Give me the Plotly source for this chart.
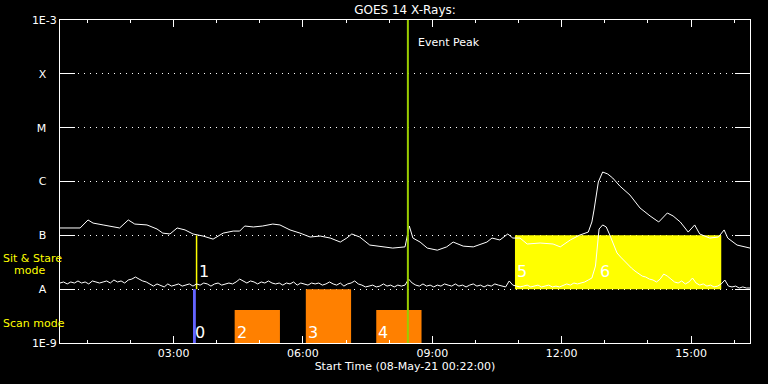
import plotly.graph_objects as go
import pandas as pd

DAY = "2021-05-08 "

# GOES long channel (1-8 A)
long_time = ["00:22", "00:32", "00:50", "01:01", "01:08", "01:22", "01:45", "01:57", "02:06", "02:23",
             "02:37", "02:45", "02:55", "03:05", "03:16", "03:27", "03:41", "03:55", "04:09", "04:23",
             "04:32", "04:39", "04:51", "05:04", "05:18", "05:28", "05:42", "05:56", "06:10", "06:24",
             "06:38", "06:52", "07:01", "07:08", "07:19", "07:33", "07:47", "08:05", "08:22", "08:28",
             "08:33", "08:43", "08:53", "09:07", "09:20", "09:29", "09:43", "09:57", "10:16", "10:23",
             "10:34", "10:45", "10:52", "11:02", "11:12", "11:30", "11:48", "11:58", "12:12", "12:25",
             "12:37", "12:42", "12:45", "12:51", "12:57", "13:04", "13:11", "13:21", "13:35", "13:49",
             "14:03", "14:15", "14:27", "14:35", "14:45", "14:56", "15:05", "15:12", "15:26", "15:38",
             "15:46", "15:51", "16:04", "16:18", "16:22"]
long_flux = [1.37e-7, 1.37e-7, 1.37e-7, 1.93e-7, 1.69e-7, 1.56e-7, 1.37e-7, 1.93e-7, 1.62e-7, 1.56e-7,
             1.31e-7, 1.10e-7, 1.06e-7, 1.37e-7, 1.26e-7, 1.06e-7, 9.7e-8, 8.5e-8, 1.10e-7, 1.20e-7,
             1.20e-7, 1.49e-7, 1.43e-7, 1.49e-7, 1.62e-7, 1.56e-7, 1.26e-7, 1.10e-7, 9.3e-8, 9.7e-8,
             8.9e-8, 7.5e-8, 8.9e-8, 1.06e-7, 9.3e-8, 6.6e-8, 6.3e-8, 5.8e-8, 6.1e-8, 1.49e-7,
             8.9e-8, 7.5e-8, 5.8e-8, 5.3e-8, 6.1e-8, 7.5e-8, 6.3e-8, 6.1e-8, 7.5e-8, 8.9e-8,
             8.2e-8, 1.06e-7, 8.9e-8, 8.9e-8, 6.9e-8, 7.2e-8, 6.9e-8, 6.1e-8, 8.2e-8, 1.01e-7,
             1.15e-7, 1.77e-7, 2.95e-7, 9.8e-7, 1.50e-6, 1.38e-6, 1.16e-6, 8.2e-7, 5.6e-7, 3.22e-7,
             2.29e-7, 1.77e-7, 2.60e-7, 2.29e-7, 1.77e-7, 1.15e-7, 1.56e-7, 1.06e-7, 8.9e-8, 9.3e-8,
             1.26e-7, 8.9e-8, 6.6e-8, 6.1e-8, 5.8e-8]

# GOES short channel (0.5-4 A), 5-minute samples from 00:22, in units of 1e-9 W/m^2
short_start = "2021-05-08 00:22"
short_flux_1e9 = [
    13.0, 13.6, 12.5, 13.6, 13.0, 14.2, 13.0, 13.6, 12.5, 14.2, 13.6, 13.0,
    13.6, 14.2, 13.0, 14.8, 13.6, 14.2, 13.0, 14.8, 15.4, 16.8, 15.4, 14.2,
    13.6, 12.5, 11.4, 12.5, 11.9, 11.0, 12.5, 11.4, 11.9, 12.5, 11.4, 11.9,
    12.5, 11.4, 12.5, 11.9, 13.0, 12.5, 11.4, 12.5, 13.0, 11.9, 12.5, 13.0,
    12.5, 13.6, 15.4, 14.2, 13.0, 14.2, 13.6, 12.5, 13.6, 13.0, 14.2, 13.0,
    12.5, 13.0, 11.9, 13.0, 12.5, 13.6, 11.9, 13.0, 12.5, 11.9, 13.0, 12.5,
    13.0, 11.9, 12.5, 13.6, 12.5, 11.9, 13.0, 11.4, 12.5, 13.0, 14.2, 12.5,
    11.9, 11.0, 11.4, 11.9, 11.0, 11.4, 12.5, 11.4, 11.9, 11.0, 11.9, 11.4,
    11.9, 15.4, 13.0, 11.9, 11.4, 12.5, 11.4, 11.9, 11.0, 11.9, 11.4, 12.5,
    11.9, 11.4, 12.5, 11.4, 11.9, 11.0, 11.9, 12.5, 11.4, 11.9, 11.0, 11.9,
    11.4, 12.5, 11.9, 11.4, 11.0, 14.2, 11.9, 11.4, 11.0, 11.4, 11.9, 11.0,
    11.4, 11.9, 11.0, 11.4, 11.9, 11.0, 11.4, 11.0, 11.9, 12.5, 11.9, 13.0,
    12.5, 13.0, 13.6, 14.8, 16.1, 26.9, 131.0, 156.0, 143.0, 101.0, 69.0, 47.0,
    39.5, 33.3, 28.1, 24.7, 21.7, 19.1, 17.5, 16.8, 15.4, 14.8, 13.6, 15.4,
    19.1, 17.5, 15.4, 13.6, 13.0, 14.2, 12.5, 13.6, 16.1, 13.0, 11.9, 12.5,
    11.4, 11.9, 11.0, 11.4, 12.5, 14.8, 11.4, 11.0, 11.4, 10.5, 11.0, 10.5,
    10.5]

# Scan-mode observations
scan_ids = ["0", "2", "3", "4"]
scan_start = ["03:27", "04:25", "06:04", "07:42"]
scan_end = ["03:31", "05:28", "07:07", "08:45"]
scan_top = [1e-8, 4.1e-9, 1e-8, 4.1e-9]
scan_bottom = 1e-9

# Sit & Stare observations
sit_ids = ["1", "5", "6"]
sit_start = ["03:32", "10:55", "12:51"]
sit_end = ["03:32", "15:42", "12:51"]
sit_low = 1e-8
sit_high = 1e-7

event_peak = "08:26"

class_vals = [1e-9, 1e-8, 1e-7, 1e-6, 1e-5, 1e-4, 1e-3]
class_labels = ["1E-9", "A", "B", "C", "M", "X", "1E-3"]

x_range = ["00:22", "16:22"]

# ---------------------------------------------------------------
WHITE = "#ffffff"
YELLOW = "#ffff00"
ORANGE = "#ff8000"
BLUE = "#6464ff"
GREEN = "#9acd00"
FONT = "DejaVu Sans"

fig = go.Figure()

# Sit & Stare boxes / lines (drawn first so curves sit on top)
for sid, s, e in zip(sit_ids, sit_start, sit_end):
    if s == e:
        fig.add_trace(go.Scatter(x=[DAY + s, DAY + e], y=[sit_low, sit_high], mode="lines",
                                 line=dict(color=YELLOW, width=1.5), showlegend=False, hoverinfo="skip"))
    else:
        fig.add_trace(go.Scatter(x=[DAY + s, DAY + s, DAY + e, DAY + e, DAY + s],
                                 y=[sit_low, sit_high, sit_high, sit_low, sit_low],
                                 mode="lines", fill="toself", fillcolor=YELLOW,
                                 line=dict(color=YELLOW, width=0), showlegend=False, hoverinfo="skip"))

# Scan-mode bars
for sid, s, e, top in zip(scan_ids, scan_start, scan_end, scan_top):
    col = BLUE if sid == "0" else ORANGE
    fig.add_trace(go.Scatter(x=[DAY + s, DAY + s, DAY + e, DAY + e, DAY + s],
                             y=[scan_bottom, top, top, scan_bottom, scan_bottom],
                             mode="lines", fill="toself", fillcolor=col,
                             line=dict(color=col, width=0), showlegend=False, hoverinfo="skip"))

# X-ray curves
short_time = pd.date_range(short_start, periods=len(short_flux_1e9), freq="5min")
fig.add_trace(go.Scatter(x=short_time, y=[v * 1e-9 for v in short_flux_1e9], mode="lines",
                         line=dict(color=WHITE, width=1), showlegend=False, hoverinfo="skip"))
fig.add_trace(go.Scatter(x=[DAY + t for t in long_time], y=long_flux, mode="lines",
                         line=dict(color=WHITE, width=1), showlegend=False, hoverinfo="skip"))

# Event peak line
fig.add_trace(go.Scatter(x=[DAY + event_peak, DAY + event_peak], y=[class_vals[0], class_vals[-1]],
                         mode="lines", line=dict(color=GREEN, width=2), showlegend=False, hoverinfo="skip"))

annotations = []
annotations.append(dict(x=DAY + event_peak, xref="x", y=0.929, yref="paper", text="Event Peak",
                        showarrow=False, xanchor="left", yanchor="middle", xshift=8,
                        font=dict(color=WHITE, size=11, family=FONT)))
for sid, s in zip(scan_ids, scan_start):
    annotations.append(dict(x=DAY + s, xref="x", y=0.031, yref="paper", text=sid, showarrow=False,
                            xanchor="left", yanchor="middle", xshift=0,
                            font=dict(color=WHITE, size=16, family=FONT)))
for sid, s in zip(sit_ids, sit_start):
    annotations.append(dict(x=DAY + s, xref="x", y=0.2214, yref="paper", text=sid, showarrow=False,
                            xanchor="left", yanchor="middle", xshift=0,
                            font=dict(color=WHITE, size=16, family=FONT)))
annotations.append(dict(x=-0.086, xref="paper", y=0.262, yref="paper", text="Sit & Stare",
                        showarrow=False, xanchor="left", yanchor="middle",
                        font=dict(color=YELLOW, size=11, family=FONT)))
annotations.append(dict(x=-0.069, xref="paper", y=0.223, yref="paper", text="mode",
                        showarrow=False, xanchor="left", yanchor="middle",
                        font=dict(color=YELLOW, size=11, family=FONT)))
annotations.append(dict(x=-0.086, xref="paper", y=0.059, yref="paper", text="Scan mode",
                        showarrow=False, xanchor="left", yanchor="middle",
                        font=dict(color=YELLOW, size=11, family=FONT)))

# pad the single-letter class labels so they sit centred under the exponent labels
ytext = [lab if len(lab) > 1 else lab + "\u00a0" * 3 for lab in class_labels]

fig.update_layout(
    width=768, height=384,
    margin=dict(l=60, r=18, t=20, b=41),
    paper_bgcolor="black", plot_bgcolor="black",
    font=dict(family=FONT, color=WHITE, size=11),
    title=dict(text="GOES 14 X-Rays:", x=0.5, xref="paper", xanchor="center",
               y=1 - 10 / 384, yref="container", yanchor="middle",
               font=dict(size=12, color=WHITE, family=FONT)),
    annotations=annotations,
    showlegend=False,
)
fig.update_xaxes(
    type="date", range=[DAY + x_range[0], DAY + x_range[1]],
    showline=True, linecolor=WHITE, linewidth=1, mirror="ticks",
    showgrid=False, zeroline=False,
    ticks="inside", ticklen=7, tickcolor=WHITE, tickwidth=1,
    tick0="2021-05-08 00:00", dtick=3 * 3600000, tickformat="%H:%M",
    tickfont=dict(size=11, color=WHITE, family=FONT),
    minor=dict(dtick=3600000, tick0="2021-05-08 00:00", ticks="inside", ticklen=3,
               tickcolor=WHITE, showgrid=False),
    title=dict(text="Start Time (08-May-21 00:22:00)", standoff=2,
               font=dict(size=11, color=WHITE, family=FONT)),
)
fig.update_yaxes(
    type="log", range=[-9, -3],
    showline=True, linecolor=WHITE, linewidth=1, mirror="ticks",
    zeroline=False,
    tickvals=class_vals, ticktext=ytext,
    ticks="inside", ticklen=15, tickcolor=WHITE, tickwidth=1,
    showgrid=True, gridcolor=WHITE, griddash="1px,5px", gridwidth=1,
    tickfont=dict(size=11, color=WHITE, family=FONT),
)

fig.write_html("out.html", config={"displayModeBar": False},
               post_script="document.body.style.margin='0';document.body.style.overflow='hidden';"
                           "document.body.style.background='black';")
